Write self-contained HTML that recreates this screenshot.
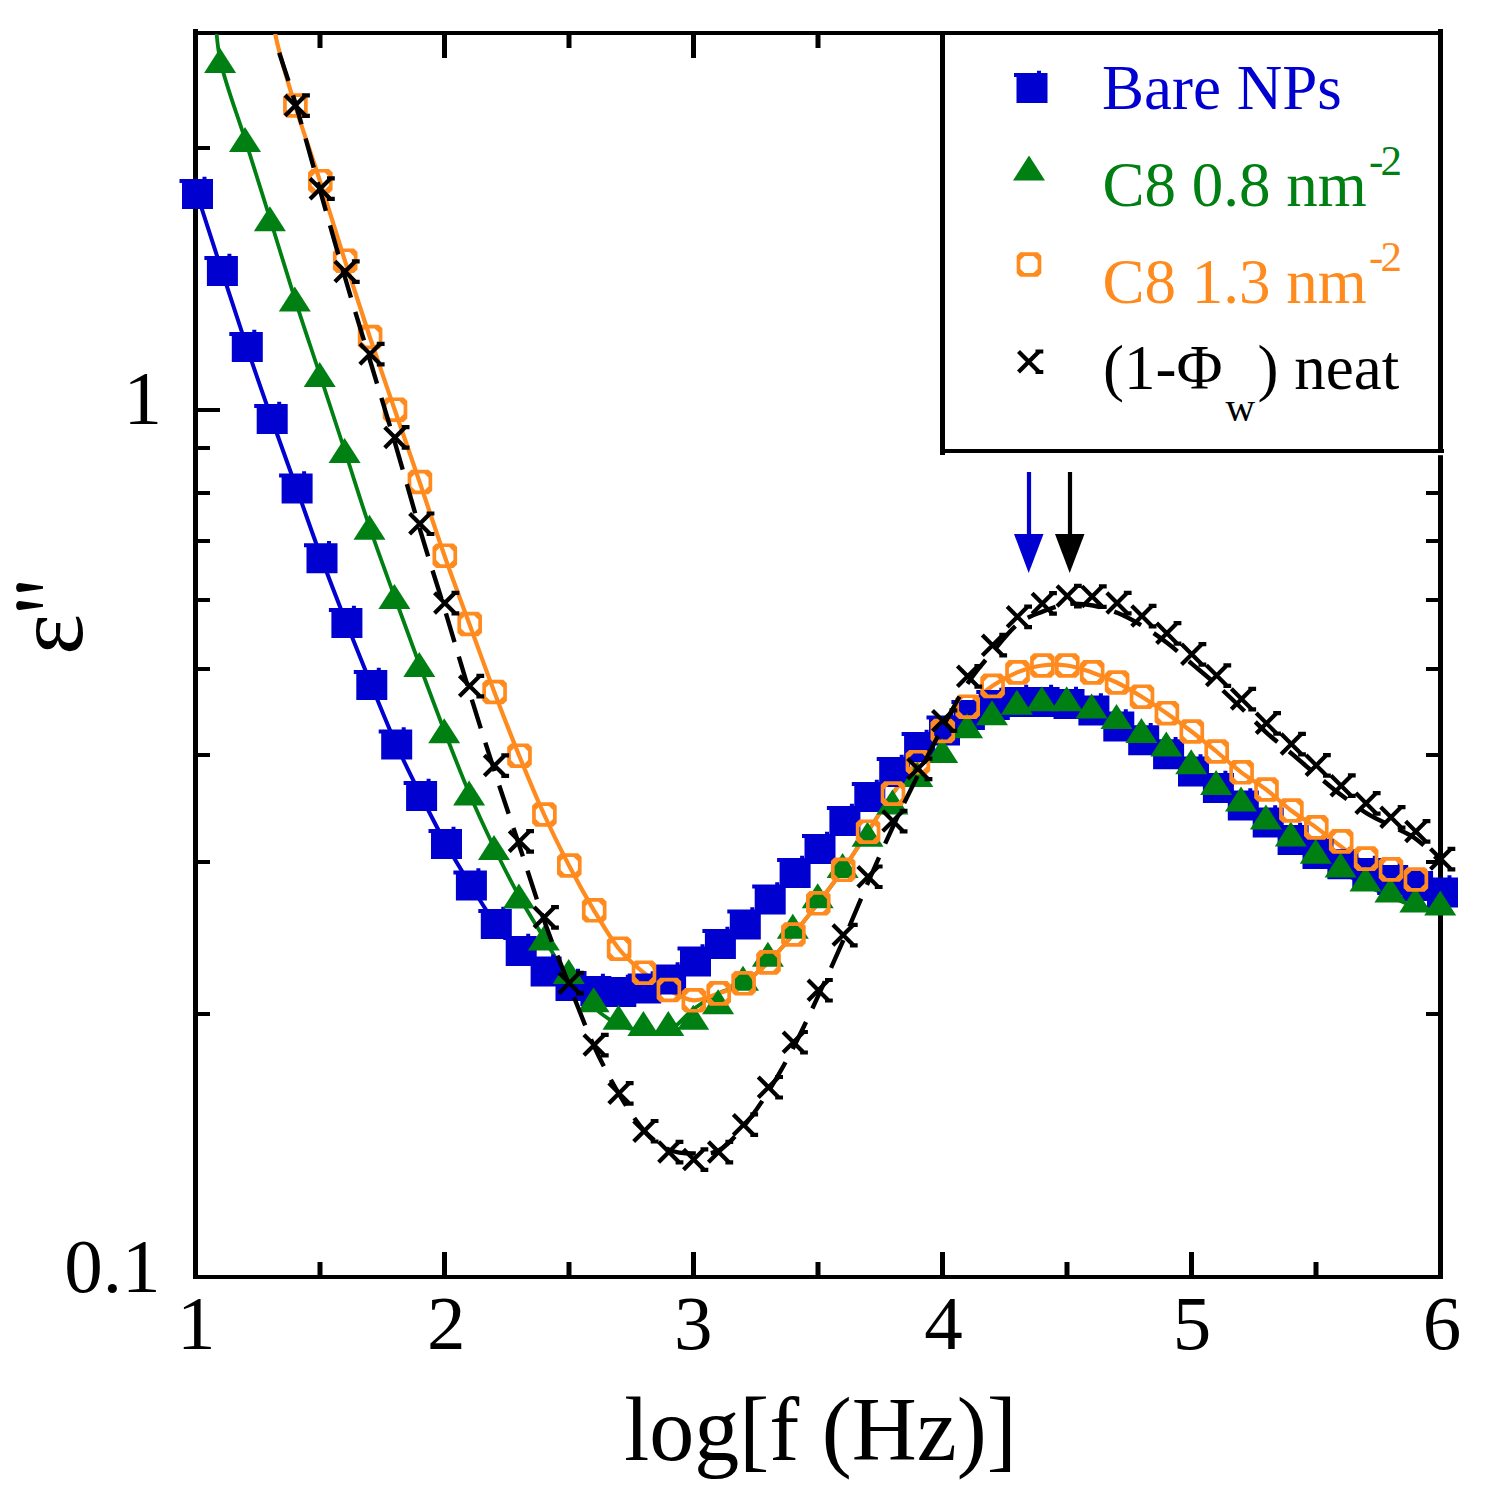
<!DOCTYPE html><html><head><meta charset="utf-8"><title>chart</title><style>
html,body{margin:0;padding:0;background:#fff;}body{width:1486px;height:1498px;overflow:hidden;}
svg{display:block;font-family:"Liberation Serif",serif;}
</style></head><body>
<svg width="1486" height="1498" viewBox="0 0 1486 1498">
<rect width="1486" height="1498" fill="#fff"/>
<defs><clipPath id="pc"><rect x="195" y="34" width="1246" height="1242"/></clipPath>
<symbol id="sq" overflow="visible"><path d="M-15.5,-15H15.5V15H-15.5ZM5,-17.2H9V-15H5ZM-18,-15H-15.5V-11H-18Z" fill="#0000d0"/></symbol>
<symbol id="tr" overflow="visible"><path d="M0,-13L16,12H-16Z" fill="#007f12"/></symbol>
<symbol id="oc" overflow="visible"><path d="M-8.7,-12.3H8.7L12.3,-8.7V8.7L8.7,12.3H-8.7L-12.3,8.7V-8.7ZM-4.4,-8.6L-8.6,-4.4V4.4L-4.4,8.6H4.4L8.6,4.4V-4.4L4.4,-8.6Z" fill="#ff8a1e" fill-rule="evenodd"/></symbol>
<symbol id="xx" overflow="visible"><path d="M-11,-10.2L9.5,10.3M-11,10.3L9.5,-10.2M6,-10.2H13.8M6,10.3H13.8" fill="none" stroke="#000" stroke-width="4.2"/></symbol>
</defs>
<g fill="#000">
<rect x="193" y="29" width="5" height="1250"/>
<rect x="1438" y="29" width="5" height="1250"/>
<rect x="193" y="31" width="1250" height="4"/>
<rect x="193" y="1275" width="1250" height="4"/>
<rect x="317.5" y="1262" width="5" height="13"/>
<rect x="317.5" y="35" width="5" height="13"/>
<rect x="442.0" y="1252" width="5" height="23"/>
<rect x="442.0" y="35" width="5" height="23"/>
<rect x="566.5" y="1262" width="5" height="13"/>
<rect x="566.5" y="35" width="5" height="13"/>
<rect x="691.0" y="1252" width="5" height="23"/>
<rect x="691.0" y="35" width="5" height="23"/>
<rect x="815.5" y="1262" width="5" height="13"/>
<rect x="815.5" y="35" width="5" height="13"/>
<rect x="940.0" y="1252" width="5" height="23"/>
<rect x="940.0" y="35" width="5" height="23"/>
<rect x="1064.5" y="1262" width="5" height="13"/>
<rect x="1064.5" y="35" width="5" height="13"/>
<rect x="1189.0" y="1252" width="5" height="23"/>
<rect x="1189.0" y="35" width="5" height="23"/>
<rect x="1313.5" y="1262" width="5" height="13"/>
<rect x="1313.5" y="35" width="5" height="13"/>
<rect x="198" y="1012.0" width="12" height="4"/>
<rect x="1426" y="1012.0" width="12" height="4"/>
<rect x="198" y="860.0" width="12" height="4"/>
<rect x="1426" y="860.0" width="12" height="4"/>
<rect x="198" y="753.0" width="12" height="4"/>
<rect x="1426" y="753.0" width="12" height="4"/>
<rect x="198" y="667.0" width="12" height="4"/>
<rect x="1426" y="667.0" width="12" height="4"/>
<rect x="198" y="598.0" width="12" height="4"/>
<rect x="1426" y="598.0" width="12" height="4"/>
<rect x="198" y="539.0" width="12" height="4"/>
<rect x="1426" y="539.0" width="12" height="4"/>
<rect x="198" y="491.0" width="12" height="4"/>
<rect x="1426" y="491.0" width="12" height="4"/>
<rect x="198" y="446.0" width="12" height="4"/>
<rect x="1426" y="446.0" width="12" height="4"/>
<rect x="198" y="408.0" width="22" height="4"/>
<rect x="1416" y="408.0" width="22" height="4"/>
<rect x="198" y="146.0" width="12" height="4"/>
<rect x="1426" y="146.0" width="12" height="4"/>
</g>
<rect x="945" y="35" width="493" height="414" fill="#fff"/>
<g fill="#000"><rect x="940" y="33" width="5" height="422"/><rect x="940" y="449" width="504" height="4"/></g>
<rect x="1437" y="453" width="7" height="2.2" fill="#fff"/>
<g clip-path="url(#pc)" fill="none" stroke-linejoin="round">
<path d="M197.0,194.0C201.2,206.8 213.6,245.5 221.9,271.0C230.2,296.5 238.5,322.3 246.8,347.0C255.1,371.7 263.4,395.4 271.7,419.0C280.0,442.6 288.3,465.2 296.6,488.4C304.9,511.6 313.2,535.8 321.5,558.2C329.8,580.6 338.1,601.9 346.4,623.0C354.7,644.1 363.0,664.8 371.3,685.0C379.6,705.2 387.9,726.0 396.2,744.5C404.5,763.0 412.8,779.4 421.1,796.0C429.4,812.6 437.7,829.1 446.0,844.0C454.3,858.9 462.6,872.2 470.9,885.5C479.2,898.8 487.5,913.1 495.8,924.0C504.1,934.9 512.4,943.1 520.7,951.0C529.0,958.9 537.3,965.8 545.6,971.6C553.9,977.4 562.2,982.8 570.5,986.0C578.8,989.2 587.1,990.0 595.4,991.0C603.7,992.0 612.0,992.4 620.3,992.0C628.6,991.6 636.9,990.6 645.2,988.5C653.5,986.4 661.8,984.0 670.1,979.5C678.4,975.0 686.7,967.4 695.0,961.5C703.3,955.6 711.6,950.2 719.9,944.0C728.2,937.8 736.5,931.9 744.8,924.5C753.1,917.1 761.4,908.1 769.7,899.5C778.0,890.9 786.3,881.4 794.6,873.0C802.9,864.6 811.2,857.7 819.5,849.0C827.8,840.3 836.1,829.7 844.4,821.0C852.7,812.3 861.0,805.2 869.3,797.0C877.6,788.8 885.9,780.3 894.2,772.0C902.5,763.7 910.8,753.9 919.1,747.0C927.4,740.1 935.7,735.8 944.0,730.5C952.3,725.2 960.6,719.2 968.9,715.0C977.2,710.8 985.5,707.2 993.8,705.0C1002.1,702.8 1010.4,702.5 1018.7,702.0C1027.0,701.5 1035.3,701.7 1043.6,702.0C1051.9,702.3 1060.2,702.6 1068.5,704.0C1076.8,705.4 1085.1,706.8 1093.4,710.5C1101.7,714.2 1110.0,721.4 1118.3,726.4C1126.6,731.4 1134.9,735.7 1143.2,740.3C1151.5,744.9 1159.8,749.0 1168.1,754.2C1176.4,759.4 1184.7,765.9 1193.0,771.5C1201.3,777.1 1209.6,782.4 1217.9,788.0C1226.2,793.6 1234.5,799.6 1242.8,805.4C1251.1,811.1 1259.4,816.7 1267.7,822.5C1276.0,828.3 1284.3,834.8 1292.6,840.0C1300.9,845.2 1309.2,850.0 1317.5,854.0C1325.8,858.0 1334.1,861.1 1342.4,864.3C1350.7,867.5 1359.0,870.4 1367.3,873.0C1375.6,875.6 1383.9,877.8 1392.2,880.0C1400.5,882.2 1408.8,883.9 1417.1,886.0C1425.4,888.1 1437.8,891.4 1442.0,892.5" stroke="#0000d0" stroke-width="4"/>
<path d="M214.5,0.0C215.5,10.2 215.3,37.7 220.4,61.0C225.5,84.3 237.0,113.6 245.3,140.0C253.6,166.4 261.9,192.6 270.2,219.2C278.5,245.8 286.8,273.6 295.1,299.6C303.4,325.6 311.7,349.8 320.0,375.0C328.3,400.2 336.6,425.6 344.9,451.0C353.2,476.4 361.5,503.4 369.8,527.7C378.1,552.0 386.4,574.1 394.7,597.0C403.0,619.9 411.3,642.6 419.6,665.0C427.9,687.4 436.2,709.8 444.5,731.2C452.8,752.6 461.1,774.1 469.4,793.6C477.7,813.1 486.0,830.9 494.3,848.0C502.6,865.1 510.9,881.4 519.2,896.5C527.5,911.6 535.8,924.6 544.1,938.4C552.4,952.1 560.7,967.5 569.0,979.0C577.3,990.5 585.6,999.7 593.9,1007.3C602.2,1014.9 610.5,1020.8 618.8,1024.8C627.1,1028.8 635.4,1030.0 643.7,1031.0C652.0,1032.0 660.3,1034.7 668.6,1031.0C676.9,1027.3 685.2,1015.3 693.5,1009.0C701.8,1002.8 710.1,997.7 718.4,993.4C726.7,989.1 735.0,988.5 743.3,983.3C751.6,978.1 759.9,970.5 768.2,962.4C776.5,954.3 784.8,944.4 793.1,934.5C801.4,924.6 809.7,914.1 818.0,903.3C826.3,892.5 834.6,881.7 842.9,869.8C851.2,857.9 859.5,844.4 867.8,831.7C876.1,819.0 884.4,805.2 892.7,793.6C901.0,782.0 909.3,772.6 917.6,762.2C925.9,751.8 934.2,740.2 942.5,731.0C950.8,721.8 959.1,711.9 967.4,706.7C975.7,701.5 984.0,699.2 992.3,699.5C1000.6,699.9 1008.9,707.8 1017.2,708.8C1025.5,709.8 1033.8,705.9 1042.1,705.3C1050.4,704.7 1058.7,704.1 1067.0,705.3C1075.3,706.5 1083.6,709.5 1091.9,712.5C1100.2,715.5 1108.5,719.0 1116.8,723.1C1125.1,727.2 1133.4,732.4 1141.7,737.0C1150.0,741.6 1158.3,745.3 1166.6,750.5C1174.9,755.7 1183.2,761.9 1191.5,768.3C1199.8,774.7 1208.1,782.9 1216.4,789.1C1224.7,795.3 1233.0,799.9 1241.3,805.6C1249.6,811.3 1257.9,817.7 1266.2,823.5C1274.5,829.3 1282.8,834.9 1291.1,840.6C1299.4,846.3 1307.7,852.7 1316.0,857.8C1324.3,862.9 1332.6,866.8 1340.9,871.4C1349.2,876.0 1357.5,881.2 1365.8,885.4C1374.1,889.6 1382.4,893.1 1390.7,896.6C1399.0,900.1 1407.3,904.5 1415.6,906.6C1423.9,908.8 1436.3,909.0 1440.5,909.5" stroke="#007f12" stroke-width="3.8"/>
<path d="M271.0,0.0C271.9,6.7 272.5,22.4 276.5,40.0C280.5,57.6 287.8,82.0 295.1,105.5C302.3,129.0 311.7,155.3 320.0,181.2C328.3,207.1 336.6,234.7 344.9,260.7C353.2,286.7 361.5,312.2 369.8,337.0C378.1,361.8 386.4,385.5 394.7,409.7C403.0,433.9 411.3,457.7 419.6,482.0C427.9,506.3 436.2,532.0 444.5,555.7C452.8,579.4 461.1,601.3 469.4,624.0C477.7,646.7 486.0,670.0 494.3,692.0C502.6,714.0 510.9,735.3 519.2,755.7C527.5,776.1 535.8,796.2 544.1,814.5C552.4,832.8 560.7,849.5 569.0,865.5C577.3,881.5 585.6,896.4 593.9,910.3C602.2,924.2 610.5,938.3 618.8,948.7C627.1,959.1 635.4,965.8 643.7,972.7C652.0,979.6 660.3,985.4 668.6,990.0C676.9,994.6 685.2,999.7 693.5,1000.3C701.8,1000.9 710.1,996.2 718.4,993.4C726.7,990.6 735.0,988.5 743.3,983.3C751.6,978.1 759.9,970.5 768.2,962.4C776.5,954.3 784.8,944.4 793.1,934.5C801.4,924.6 809.7,914.1 818.0,903.3C826.3,892.5 834.6,881.7 842.9,869.8C851.2,857.9 859.5,844.4 867.8,831.7C876.1,819.0 884.4,805.2 892.7,793.6C901.0,782.0 909.3,772.6 917.6,762.2C925.9,751.8 934.2,740.2 942.5,731.0C950.8,721.8 959.1,714.2 967.4,706.7C975.7,699.2 984.0,691.6 992.3,685.9C1000.6,680.2 1008.9,675.8 1017.2,672.4C1025.5,669.0 1033.8,666.6 1042.1,665.5C1050.4,664.4 1058.7,664.4 1067.0,665.5C1075.3,666.6 1083.6,669.6 1091.9,672.4C1100.2,675.2 1108.5,678.5 1116.8,682.5C1125.1,686.5 1133.4,691.6 1141.7,696.7C1150.0,701.8 1158.3,707.4 1166.6,713.2C1174.9,719.0 1183.2,725.1 1191.5,731.5C1199.8,737.9 1208.1,744.7 1216.4,751.5C1224.7,758.3 1233.0,766.0 1241.3,772.3C1249.6,778.6 1257.9,783.1 1266.2,789.5C1274.5,795.9 1282.8,804.2 1291.1,810.5C1299.4,816.8 1307.7,821.4 1316.0,827.4C1324.3,833.4 1332.6,840.4 1340.9,846.4C1349.2,852.4 1357.5,858.9 1365.8,863.6C1374.1,868.3 1382.4,870.9 1390.7,874.4C1399.0,877.9 1411.5,882.8 1415.6,884.5" stroke="#ff8a1e" stroke-width="4.2"/>
</g>
<use href="#sq" x="197.5" y="194.0"/>
<use href="#sq" x="222.4" y="271.0"/>
<use href="#sq" x="247.3" y="347.0"/>
<use href="#sq" x="272.2" y="419.0"/>
<use href="#sq" x="297.1" y="488.4"/>
<use href="#sq" x="322.0" y="558.2"/>
<use href="#sq" x="346.9" y="623.0"/>
<use href="#sq" x="371.8" y="685.0"/>
<use href="#sq" x="396.7" y="744.5"/>
<use href="#sq" x="421.6" y="796.0"/>
<use href="#sq" x="446.5" y="844.0"/>
<use href="#sq" x="471.4" y="885.5"/>
<use href="#sq" x="496.3" y="924.0"/>
<use href="#sq" x="521.2" y="951.0"/>
<use href="#sq" x="546.1" y="971.6"/>
<use href="#sq" x="571.0" y="986.0"/>
<use href="#sq" x="595.9" y="991.0"/>
<use href="#sq" x="620.8" y="992.0"/>
<use href="#sq" x="645.7" y="988.5"/>
<use href="#sq" x="670.6" y="979.5"/>
<use href="#sq" x="695.5" y="961.5"/>
<use href="#sq" x="720.4" y="944.0"/>
<use href="#sq" x="745.3" y="924.5"/>
<use href="#sq" x="770.2" y="899.5"/>
<use href="#sq" x="795.1" y="873.0"/>
<use href="#sq" x="820.0" y="849.0"/>
<use href="#sq" x="844.9" y="821.0"/>
<use href="#sq" x="869.8" y="797.0"/>
<use href="#sq" x="894.7" y="772.0"/>
<use href="#sq" x="919.6" y="747.0"/>
<use href="#sq" x="944.5" y="730.5"/>
<use href="#sq" x="969.4" y="715.0"/>
<use href="#sq" x="994.3" y="705.0"/>
<use href="#sq" x="1019.2" y="702.0"/>
<use href="#sq" x="1044.1" y="702.0"/>
<use href="#sq" x="1069.0" y="704.0"/>
<use href="#sq" x="1093.9" y="710.5"/>
<use href="#sq" x="1118.8" y="726.4"/>
<use href="#sq" x="1143.7" y="740.3"/>
<use href="#sq" x="1168.6" y="754.2"/>
<use href="#sq" x="1193.5" y="771.5"/>
<use href="#sq" x="1218.4" y="788.0"/>
<use href="#sq" x="1243.3" y="805.4"/>
<use href="#sq" x="1268.2" y="822.5"/>
<use href="#sq" x="1293.1" y="840.0"/>
<use href="#sq" x="1318.0" y="854.0"/>
<use href="#sq" x="1342.9" y="864.3"/>
<use href="#sq" x="1367.8" y="873.0"/>
<use href="#sq" x="1392.7" y="880.0"/>
<use href="#sq" x="1417.6" y="886.0"/>
<use href="#sq" x="1442.5" y="892.5"/>
<use href="#tr" x="220.1" y="61.0"/>
<use href="#tr" x="245.0" y="140.0"/>
<use href="#tr" x="269.9" y="219.2"/>
<use href="#tr" x="294.8" y="299.6"/>
<use href="#tr" x="319.7" y="375.0"/>
<use href="#tr" x="344.6" y="451.0"/>
<use href="#tr" x="369.5" y="527.7"/>
<use href="#tr" x="394.4" y="597.0"/>
<use href="#tr" x="419.3" y="665.0"/>
<use href="#tr" x="444.2" y="731.2"/>
<use href="#tr" x="469.1" y="793.6"/>
<use href="#tr" x="494.0" y="848.0"/>
<use href="#tr" x="518.9" y="896.5"/>
<use href="#tr" x="543.8" y="938.4"/>
<use href="#tr" x="568.7" y="972.0"/>
<use href="#tr" x="593.6" y="1000.3"/>
<use href="#tr" x="618.5" y="1017.8"/>
<use href="#tr" x="643.4" y="1024.0"/>
<use href="#tr" x="668.3" y="1024.0"/>
<use href="#tr" x="693.2" y="1017.8"/>
<use href="#tr" x="718.1" y="1002.3"/>
<use href="#tr" x="743.0" y="978.7"/>
<use href="#tr" x="767.9" y="954.7"/>
<use href="#tr" x="792.8" y="926.7"/>
<use href="#tr" x="817.7" y="896.3"/>
<use href="#tr" x="842.6" y="866.0"/>
<use href="#tr" x="867.5" y="834.8"/>
<use href="#tr" x="892.4" y="802.5"/>
<use href="#tr" x="917.3" y="775.0"/>
<use href="#tr" x="942.2" y="751.0"/>
<use href="#tr" x="967.1" y="726.3"/>
<use href="#tr" x="992.0" y="713.2"/>
<use href="#tr" x="1016.9" y="702.8"/>
<use href="#tr" x="1041.8" y="699.3"/>
<use href="#tr" x="1066.7" y="699.3"/>
<use href="#tr" x="1091.6" y="706.5"/>
<use href="#tr" x="1116.5" y="717.1"/>
<use href="#tr" x="1141.4" y="731.0"/>
<use href="#tr" x="1166.3" y="744.5"/>
<use href="#tr" x="1191.2" y="762.3"/>
<use href="#tr" x="1216.1" y="783.1"/>
<use href="#tr" x="1241.0" y="799.6"/>
<use href="#tr" x="1265.9" y="817.5"/>
<use href="#tr" x="1290.8" y="834.6"/>
<use href="#tr" x="1315.7" y="851.8"/>
<use href="#tr" x="1340.6" y="865.4"/>
<use href="#tr" x="1365.5" y="879.4"/>
<use href="#tr" x="1390.4" y="890.6"/>
<use href="#tr" x="1415.3" y="900.6"/>
<use href="#tr" x="1440.2" y="903.5"/>
<use href="#oc" x="295.4" y="105.5"/>
<use href="#oc" x="320.3" y="181.2"/>
<use href="#oc" x="345.2" y="260.7"/>
<use href="#oc" x="370.1" y="337.0"/>
<use href="#oc" x="395.0" y="409.7"/>
<use href="#oc" x="419.9" y="482.0"/>
<use href="#oc" x="444.8" y="555.7"/>
<use href="#oc" x="469.7" y="624.0"/>
<use href="#oc" x="494.6" y="692.0"/>
<use href="#oc" x="519.5" y="755.7"/>
<use href="#oc" x="544.4" y="814.5"/>
<use href="#oc" x="569.3" y="865.5"/>
<use href="#oc" x="594.2" y="910.3"/>
<use href="#oc" x="619.1" y="948.7"/>
<use href="#oc" x="644.0" y="972.7"/>
<use href="#oc" x="668.9" y="990.0"/>
<use href="#oc" x="693.8" y="1000.3"/>
<use href="#oc" x="718.7" y="993.4"/>
<use href="#oc" x="743.6" y="983.3"/>
<use href="#oc" x="768.5" y="962.4"/>
<use href="#oc" x="793.4" y="934.5"/>
<use href="#oc" x="818.3" y="903.3"/>
<use href="#oc" x="843.2" y="869.8"/>
<use href="#oc" x="868.1" y="831.7"/>
<use href="#oc" x="893.0" y="793.6"/>
<use href="#oc" x="917.9" y="762.2"/>
<use href="#oc" x="942.8" y="731.0"/>
<use href="#oc" x="967.7" y="706.7"/>
<use href="#oc" x="992.6" y="685.9"/>
<use href="#oc" x="1017.5" y="672.4"/>
<use href="#oc" x="1042.4" y="665.5"/>
<use href="#oc" x="1067.3" y="665.5"/>
<use href="#oc" x="1092.2" y="672.4"/>
<use href="#oc" x="1117.1" y="682.5"/>
<use href="#oc" x="1142.0" y="696.7"/>
<use href="#oc" x="1166.9" y="713.2"/>
<use href="#oc" x="1191.8" y="731.5"/>
<use href="#oc" x="1216.7" y="751.5"/>
<use href="#oc" x="1241.6" y="772.3"/>
<use href="#oc" x="1266.5" y="789.5"/>
<use href="#oc" x="1291.4" y="810.5"/>
<use href="#oc" x="1316.3" y="827.4"/>
<use href="#oc" x="1341.2" y="841.4"/>
<use href="#oc" x="1366.1" y="858.6"/>
<use href="#oc" x="1391.0" y="869.4"/>
<use href="#oc" x="1415.9" y="879.5"/>
<g clip-path="url(#pc)"><path d="M279.2,52.7C282.0,61.5 289.1,82.0 296.1,105.5C303.1,129.0 312.7,164.4 321.0,193.6C329.3,222.8 337.6,252.3 345.9,280.5C354.2,308.7 362.5,335.5 370.8,363.0C379.1,390.5 387.4,417.3 395.7,445.4C404.0,473.5 412.3,503.9 420.6,531.7C428.9,559.5 437.2,584.8 445.5,612.0C453.8,639.2 462.1,668.1 470.4,695.0C478.7,721.9 487.0,748.0 495.3,773.5C503.6,799.0 511.9,823.3 520.2,848.3C528.5,873.3 536.8,900.2 545.1,923.3C553.4,946.4 561.7,966.2 570.0,987.0C578.3,1007.8 586.6,1030.0 594.9,1048.0C603.2,1066.0 611.5,1081.4 619.8,1095.3C628.1,1109.2 636.4,1122.1 644.7,1131.2C653.0,1140.3 661.3,1146.3 669.6,1150.0C677.9,1153.7 686.2,1153.5 694.5,1153.5C702.8,1153.5 711.1,1154.7 719.4,1150.0C727.7,1145.3 736.0,1135.6 744.3,1125.6C752.6,1115.6 760.9,1103.4 769.2,1090.2C777.5,1077.0 785.8,1062.2 794.1,1046.2C802.4,1030.2 810.7,1012.1 819.0,994.2C827.3,976.3 835.6,957.9 843.9,939.0C852.2,920.1 860.5,899.7 868.8,880.7C877.1,861.7 885.4,842.8 893.7,825.0C902.0,807.2 910.3,790.4 918.6,773.8C926.9,757.2 935.2,740.9 943.5,725.6C951.8,710.4 960.1,694.7 968.4,682.3C976.7,669.9 985.0,660.9 993.3,651.1C1001.6,641.4 1009.9,630.4 1018.2,623.8C1026.5,617.2 1034.8,614.7 1043.1,611.4C1051.4,608.1 1059.7,605.0 1068.0,604.0C1076.3,603.0 1084.6,604.0 1092.9,605.5C1101.2,607.0 1109.5,609.6 1117.8,613.0C1126.1,616.4 1134.4,621.0 1142.7,626.0C1151.0,631.0 1159.3,636.9 1167.6,643.3C1175.9,649.7 1184.2,657.3 1192.5,664.3C1200.8,671.3 1209.1,678.0 1217.4,685.5C1225.7,693.0 1234.0,701.0 1242.3,709.0C1250.6,717.0 1258.9,725.8 1267.2,733.3C1275.5,740.8 1283.8,747.0 1292.1,754.0C1300.4,761.0 1308.7,768.4 1317.0,775.3C1325.3,782.2 1333.6,789.3 1341.9,795.6C1350.2,801.9 1358.5,808.2 1366.8,813.3C1375.1,818.4 1383.4,821.9 1391.7,826.3C1400.0,830.6 1408.3,833.3 1416.6,839.4C1424.9,845.5 1437.3,859.1 1441.5,863.0" fill="none" stroke="#000" stroke-width="4.4" stroke-dasharray="30 15" stroke-dashoffset="0"/></g>
<use href="#xx" x="296.1" y="105.5"/>
<use href="#xx" x="321.0" y="188.6"/>
<use href="#xx" x="345.9" y="271.5"/>
<use href="#xx" x="370.8" y="354.0"/>
<use href="#xx" x="395.7" y="437.4"/>
<use href="#xx" x="420.6" y="523.7"/>
<use href="#xx" x="445.5" y="603.0"/>
<use href="#xx" x="470.4" y="686.0"/>
<use href="#xx" x="495.3" y="765.5"/>
<use href="#xx" x="520.2" y="841.3"/>
<use href="#xx" x="545.1" y="917.3"/>
<use href="#xx" x="570.0" y="983.0"/>
<use href="#xx" x="594.9" y="1045.0"/>
<use href="#xx" x="619.8" y="1093.3"/>
<use href="#xx" x="644.7" y="1131.2"/>
<use href="#xx" x="669.6" y="1152.0"/>
<use href="#xx" x="694.5" y="1159.5"/>
<use href="#xx" x="719.4" y="1152.0"/>
<use href="#xx" x="744.3" y="1124.6"/>
<use href="#xx" x="769.2" y="1087.2"/>
<use href="#xx" x="794.1" y="1042.2"/>
<use href="#xx" x="819.0" y="990.2"/>
<use href="#xx" x="843.9" y="935.0"/>
<use href="#xx" x="868.8" y="876.7"/>
<use href="#xx" x="893.7" y="821.0"/>
<use href="#xx" x="918.6" y="768.8"/>
<use href="#xx" x="943.5" y="720.6"/>
<use href="#xx" x="968.4" y="676.3"/>
<use href="#xx" x="993.3" y="645.1"/>
<use href="#xx" x="1018.2" y="616.8"/>
<use href="#xx" x="1043.1" y="603.4"/>
<use href="#xx" x="1068.0" y="596.0"/>
<use href="#xx" x="1092.9" y="596.5"/>
<use href="#xx" x="1117.8" y="603.0"/>
<use href="#xx" x="1142.7" y="616.0"/>
<use href="#xx" x="1167.6" y="633.3"/>
<use href="#xx" x="1192.5" y="654.3"/>
<use href="#xx" x="1217.4" y="675.5"/>
<use href="#xx" x="1242.3" y="699.0"/>
<use href="#xx" x="1267.2" y="723.3"/>
<use href="#xx" x="1292.1" y="744.0"/>
<use href="#xx" x="1317.0" y="765.3"/>
<use href="#xx" x="1341.9" y="785.6"/>
<use href="#xx" x="1366.8" y="803.3"/>
<use href="#xx" x="1391.7" y="817.3"/>
<use href="#xx" x="1416.6" y="831.4"/>
<use href="#xx" x="1441.5" y="859.0"/>
<rect x="1026.9" y="472" width="4.2" height="64" fill="#0000d0"/>
<path d="M1014.0,534H1043.5L1028.7,573Z" fill="#0000d0"/>
<rect x="1067.9" y="472" width="4.2" height="64" fill="#000000"/>
<path d="M1055.0,534H1084.5L1069.7,573Z" fill="#000000"/>
<g font-size="77" fill="#000" text-anchor="middle">
<text x="196.2" y="1349">1</text>
<text x="446.2" y="1349">2</text>
<text x="693.2" y="1349">3</text>
<text x="943.5" y="1349">4</text>
<text x="1192.0" y="1349">5</text>
<text x="1442.0" y="1349">6</text>
</g>
<g font-size="77" fill="#000" text-anchor="end">
<text x="162" y="423.5">1</text>
<text x="160.5" y="1291.5">0.1</text>
</g>
<text x="820.5" y="1460" font-size="90" text-anchor="middle">log[f (Hz)]</text>
<text transform="translate(82,655) rotate(-90)" font-size="98">&#949;</text>
<path d="M19.5,582.9 C15,582.9 15,592.1 19.5,592.1 L43,588.8 L43,586.2 Z" fill="#000"/>
<path d="M19.5,600.9 C15,600.9 15,610.1 19.5,610.1 L43,606.8 L43,604.2 Z" fill="#000"/>
<use href="#sq" x="1032" y="88"/>
<text x="1102" y="109" font-size="63" fill="#0000d0">Bare NPs</text>
<use href="#tr" x="1029" y="168.5"/>
<text x="1102.5" y="206.3" font-size="63" fill="#007f12">C8 0.8 nm</text>
<text x="1369" y="175" font-size="43" fill="#007f12">-<tspan x="1380.5">2</tspan></text>
<use href="#oc" x="1029" y="264.5"/>
<text x="1102.5" y="302.6" font-size="63" fill="#ff8a1e">C8 1.3 nm</text>
<text x="1369" y="270.7" font-size="43" fill="#ff8a1e">-<tspan x="1380.5">2</tspan></text>
<use href="#xx" x="1029.5" y="361.7"/>
<text x="1103" y="389" font-size="63" fill="#000">(1-&#934;</text>
<text x="1225.5" y="420.5" font-size="41" fill="#000">w</text>
<text x="1257.5" y="389" font-size="63" fill="#000">) neat</text>
</svg></body></html>
